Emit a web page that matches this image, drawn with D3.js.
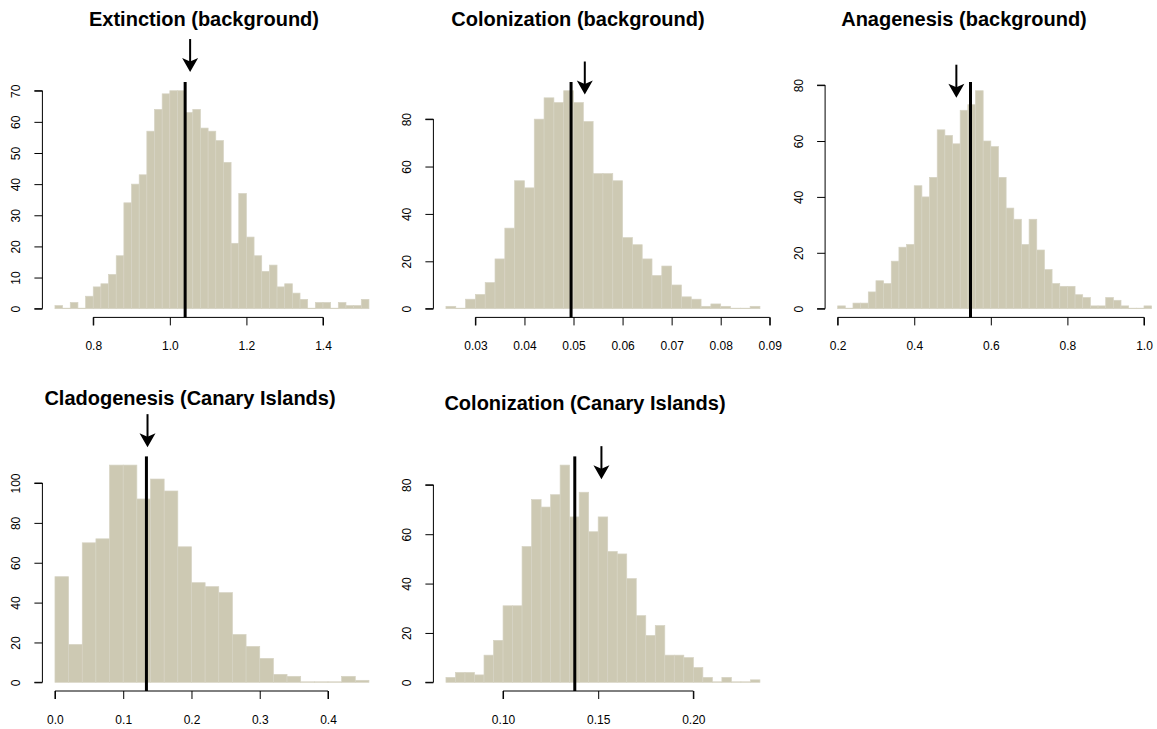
<!DOCTYPE html>
<html>
<head>
<meta charset="utf-8">
<script src="https://cdn.jsdelivr.net/npm/d3@7"></script>
<style>
  body { margin: 0; background: #fff; }
  svg text { font-family: "Liberation Sans", Arial, sans-serif; fill: #000; }
</style>
</head>
<body>
<div id="chart"></div>
<script>
// histogram counts, one array per panel (bins of equal width)
const extinctionBgCounts = [1,0,2,0,4,7,8,11,17,34,40,43,57,64,69,70,70,63,64,58,57,54,47,21,37,23,17,12,14,7,8,5,3,0,2,2,0,2,1,1,3];
const colonizationBgCounts = [1,0,4,6,11,21,34,54,51,80,89,87,92,87,79,57,57,54,30,27,21,14,18,10,5,4,1,2,1,0,0,1];
const anagenesisBgCounts = [1,0,2,2,6,10,9,17,22,23,44,40,47,64,62,59,71,73,78,60,58,47,36,32,23,32,21,14,9,8,8,5,4,1,1,4,3,1,0,0,1];
const cladogenesisCanCounts = [53,19,70,72,109,109,92,102,96,68,50,48,45,24,18,12,4,3,0,0,0,3,1];
const colonizationCanCounts = [2,4,4,3,11,17,31,31,55,74,71,76,88,67,77,61,67,53,52,42,27,19,23,11,11,10,6,2,0,2,0,0,1];

// first bin edge and bin width
const binStarts = [0.70, 0.024, 0.20, 0.00, 0.070];
const binWidths = [0.02, 0.002, 0.02, 0.02, 0.005];

const titles = ["Extinction (background)", "Colonization (background)", "Anagenesis (background)",
                "Cladogenesis (Canary Islands)", "Colonization (Canary Islands)"];

const xTicks = [
  [0.8, 1.0, 1.2, 1.4],
  [0.03, 0.04, 0.05, 0.06, 0.07, 0.08, 0.09],
  [0.2, 0.4, 0.6, 0.8, 1.0],
  [0.0, 0.1, 0.2, 0.3, 0.4],
  [0.10, 0.15, 0.20]
];
const xDecimals = [1, 2, 1, 1, 2];
const yTicks = [
  [0, 10, 20, 30, 40, 50, 60, 70],
  [0, 20, 40, 60, 80],
  [0, 20, 40, 60, 80],
  [0, 20, 40, 60, 80, 100],
  [0, 20, 40, 60, 80]
];

// vertical line (estimate) and arrow (x, tip height in counts)
const lineValues = [1.04, 0.0495, 0.547, 0.134, 0.1377];
const arrowX = [1.053, 0.0523, 0.51, 0.1356, 0.1517];
const arrowTip = [76, 90.4, 75.5, 118, 82.3];

const allCounts = [extinctionBgCounts, colonizationBgCounts, anagenesisBgCounts, cladogenesisCanCounts, colonizationCanCounts];

// layout of each plot region (pixels)
const layout = [
  { left: 42.4,  top: 82,    bottom: 317.4, titleX: 204, titleY: 26 },
  { left: 433.4, top: 82,    bottom: 317.4, titleX: 578, titleY: 26 },
  { left: 825.1, top: 82,    bottom: 317.4, titleX: 964, titleY: 26 },
  { left: 42.4,  top: 456.4, bottom: 691,   titleX: 190, titleY: 405 },
  { left: 433.4, top: 456.4, bottom: 691,   titleX: 585, titleY: 410 }
];
const plotWidth = 339.1;
const fill = "#CDC9B3", edge = "#D6D3C3";

const svg = d3.select("#chart").append("svg")
  .attr("width", 1157).attr("height", 729);

allCounts.forEach((counts, i) => {
  const L = layout[i];
  const start = binStarts[i], w = binWidths[i];
  const end = start + counts.length * w;
  const pad = (end - start) * 0.04;
  const ymax = d3.max(counts);

  const x = d3.scaleLinear().domain([start - pad, end + pad]).range([L.left, L.left + plotWidth]);
  const y = d3.scaleLinear().domain([-0.04 * ymax, 1.04 * ymax]).range([L.bottom, L.top]);

  const g = svg.append("g");

  g.selectAll("rect.bar")
    .data(counts)
    .enter()
    .append("rect")
    .attr("class", "bar")
    .attr("x", (d, k) => x(start + k * w))
    .attr("width", (d, k) => x(start + (k + 1) * w) - x(start + k * w))
    .attr("y", d => y(d) - (d === 0 ? 0.5 : 0))
    .attr("height", d => Math.max(y(0) - y(d), 0.5))
    .attr("fill", fill)
    .attr("stroke", edge)
    .attr("stroke-width", 0.7);

  // x axis
  const xa = g.append("g").attr("transform", `translate(0,${L.bottom})`)
    .call(d3.axisBottom(x).tickValues(xTicks[i]).tickSize(8).tickPadding(16)
      .tickFormat(d3.format(`.${xDecimals[i]}f`)));
  xa.select(".domain").attr("d", `M${x(xTicks[i][0])},8V0H${x(xTicks[i][xTicks[i].length - 1])}V8`);
  xa.selectAll("text").attr("font-size", 12).attr("font-family", "Liberation Sans, Arial, sans-serif");
  xa.selectAll("line, path").attr("stroke", "#000");

  // y axis
  const ya = g.append("g").attr("transform", `translate(${L.left},0)`)
    .call(d3.axisLeft(y).tickValues(yTicks[i]).tickSize(8).tickFormat(d3.format("d")));
  const yt = yTicks[i];
  ya.select(".domain").attr("d", `M-8,${y(yt[0])}H0V${y(yt[yt.length - 1])}H-8`);
  ya.selectAll("line, path").attr("stroke", "#000");
  ya.selectAll("text")
    .attr("font-size", 12).attr("font-family", "Liberation Sans, Arial, sans-serif")
    .attr("x", null)
    .attr("text-anchor", "middle")
    .attr("transform", "translate(-22,0) rotate(-90)")
    .attr("dy", "0");

  // vertical line
  g.append("line")
    .attr("x1", x(lineValues[i])).attr("x2", x(lineValues[i]))
    .attr("y1", L.top).attr("y2", L.bottom)
    .attr("stroke", "#000").attr("stroke-width", 3);

  // arrow
  const ax = x(arrowX[i]), tip = y(arrowTip[i]);
  g.append("line")
    .attr("x1", ax).attr("x2", ax)
    .attr("y1", tip - 33).attr("y2", tip - 8)
    .attr("stroke", "#000").attr("stroke-width", 2);
  g.append("path")
    .attr("d", `M${ax},${tip}L${ax - 8},${tip - 14}L${ax},${tip - 10.5}L${ax + 8},${tip - 14}Z`)
    .attr("fill", "#000");

  // title
  g.append("text")
    .attr("x", L.titleX).attr("y", L.titleY)
    .attr("text-anchor", "middle")
    .attr("font-size", 20).attr("font-weight", "bold")
    .text(titles[i]);
});
</script>
</body>
</html>
